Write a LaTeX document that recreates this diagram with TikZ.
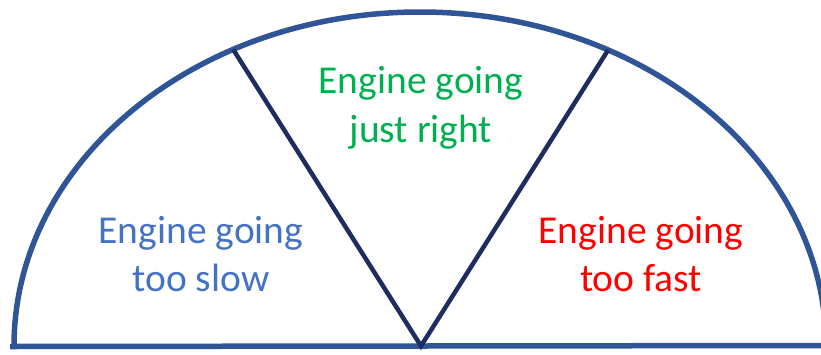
\documentclass[tikz,border=0pt]{standalone}
\usepackage{fontspec}
\setmainfont{Carlito}
\definecolor{rimblue}{HTML}{2F5597}
\definecolor{spokenavy}{HTML}{1F2D5E}
\definecolor{slowblue}{HTML}{4472C4}
\definecolor{rightgreen}{HTML}{00B050}
\definecolor{fastred}{HTML}{FF0000}
\begin{document}
\begin{tikzpicture}[x=1pt,y=-1pt,
  rim/.style={draw=rimblue,line width=5.5pt},
  spoke/.style={draw=spokenavy,line width=4.5pt},
  zone/.style={align=center,inner sep=0pt,
    font=\fontsize{39.5}{48.5}\selectfont}]
  \useasboundingbox (0,0) rectangle (821,354);
  \clip (0,0) rectangle (821,354);
  % gauge outline: half ellipse on a base line
  \coordinate (hub) at (421,346);
  \coordinate (L) at ({420+406*cos(117.4)},{346-334*sin(117.4)});
  \coordinate (R) at ({420+406*cos(62.4)},{346-334*sin(62.4)});
  \draw[rim] (10,346.5) -- (830,345.5);
  \draw[rim] (14,346) arc[start angle=180,end angle=0,x radius=406,y radius=-334];
  % dividing spokes
  \draw[spoke,line join=miter] (L) -- (hub) -- (R);
  % zone labels
  \node[zone,text=slowblue] (slow) at (201,254) {Engine going\\too slow};
  \node[zone,text=rightgreen] (ok) at (421,108) {Engine going\\just right};
  \node[zone,text=fastred] (fast) at (641,254) {Engine going\\too fast};
\end{tikzpicture}
\end{document}
